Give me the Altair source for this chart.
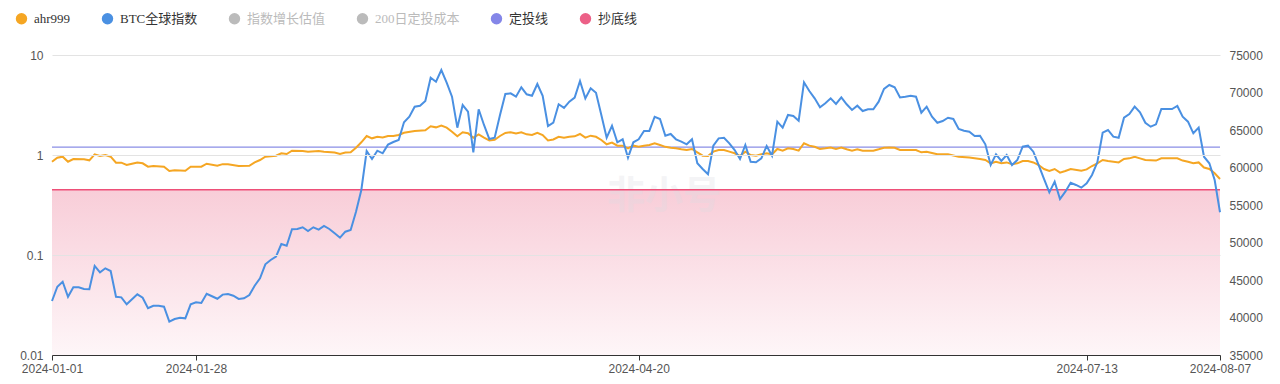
import altair as alt
import pandas as pd

# ---------------- data ----------------
series_names = ["ahr999", "BTC全球指数", "指数增长估值", "200日定投成本", "定投线", "抄底线"]
series_colors = ["#f5a623", "#4a90e2", "#bbbbbb", "#bbbbbb", "#8486e8", "#ec6087"]
inactive_series = ["指数增长估值", "200日定投成本"]

dca_line = 1.2     # 定投线
dip_line = 0.45    # 抄底线
left_floor = 0.01

x_tick_labels = ["2024-01-01", "2024-01-28", "2024-04-20", "2024-07-13", "2024-08-07"]
left_ticks = [0.01, 0.1, 1, 10]
right_ticks = [35000, 40000, 45000, 50000, 55000, 60000, 65000, 70000, 75000]

day_list = pd.date_range("2024-01-01", "2024-08-07", freq="D")
day_list = day_list[day_list != pd.Timestamp("2024-07-28")]
btc_dates = [d.strftime("%Y-%m-%dT00:00:00") for d in day_list]

btc_values = [
    42200, 44100, 44770, 42770, 44030, 44030, 43800, 43760, 46870, 46020,
    46560, 46200, 42770, 42690, 41760, 42430, 43090, 42640, 41230, 41570,
    41570, 41440, 39440, 39800, 39970, 39890, 41760, 42030, 41930, 43170,
    42830, 42500, 43050, 43130, 42910, 42470, 42560, 43000, 44240, 45220,
    47090, 47670, 48110, 49800, 49570, 51760, 51800, 52030, 51530, 52030,
    51710, 52200, 51800, 51230, 50640, 51440, 51670, 54110, 57000, 62200,
    61130, 62240, 61890, 63050, 63400, 63670, 66030, 66770, 68110, 68240,
    68870, 71970, 71440, 73000, 71310, 69440, 65310, 68330, 67440, 62030,
    67760, 65670, 63800, 63970, 67000, 69800, 69890, 69440, 70690, 69760,
    69570, 71130, 69570, 65530, 65970, 68430, 67950, 68780, 69310, 71530,
    69220, 70560, 69970, 67000, 63970, 65570, 63360, 63760, 61310, 63360,
    63760, 64870, 64870, 66770, 66470, 64240, 64470, 63760, 63440, 63090,
    63760, 60560, 59800, 59090, 62910, 63890, 63970, 63220, 62330, 61130,
    63000, 60770, 60690, 61220, 62870, 61570, 66110, 65310, 67000, 66870,
    66240, 71360, 70200, 69220, 68030, 68560, 69220, 68470, 69360, 68430,
    67670, 68240, 67530, 67760, 67760, 68780, 70470, 71000, 70700, 69330,
    69440, 69570, 69440, 67310, 68110, 66770, 65970, 66200, 66640, 66470,
    65140, 64910, 64770, 64200, 64240, 63090, 60330, 61760, 60870, 61670,
    60330, 61000, 62780, 62910, 62110, 60330, 58470, 56690, 58110, 55800,
    56780, 57970, 57670, 57310, 57890, 59000, 60690, 64640, 65000, 64110,
    63970, 66640, 67130, 68110, 67360, 65970, 65440, 65760, 67800, 67800,
    68200, 66770, 66110, 64560, 65310, 61440, 60560, 58330, 54030,
]

# (day index into btc_dates, ahr999 value)
ahr999_points = [
    (0, 0.857), (1, 0.94), (2, 0.962), (3, 0.857), (4, 0.912), (6, 0.905), (7, 0.884),
    (8, 1.016), (9, 0.977), (10, 1.0), (11, 0.962), (12, 0.838), (13, 0.838), (14, 0.794),
    (15, 0.818), (16, 0.843), (17, 0.826), (18, 0.764), (19, 0.776), (21, 0.764), (22, 0.692),
    (23, 0.703), (25, 0.697), (26, 0.764), (28, 0.764), (29, 0.818), (31, 0.78), (32, 0.81),
    (33, 0.81), (35, 0.776), (37, 0.78), (38, 0.843), (39, 0.891), (40, 0.962), (42, 0.985),
    (43, 1.04), (44, 1.023), (45, 1.105), (47, 1.096), (48, 1.08), (50, 1.096), (51, 1.08),
    (53, 1.057), (54, 1.023), (55, 1.057), (56, 1.064), (57, 1.183), (58, 1.34), (59, 1.549),
    (60, 1.468), (61, 1.52), (62, 1.50), (63, 1.549), (64, 1.549), (65, 1.585), (66, 1.67),
    (68, 1.738), (70, 1.765), (71, 1.936), (72, 1.89), (73, 1.965), (74, 1.88), (75, 1.71),
    (76, 1.538), (77, 1.69), (78, 1.65), (79, 1.49), (80, 1.61), (81, 1.49), (82, 1.40),
    (83, 1.42), (84, 1.549), (85, 1.66), (86, 1.69), (87, 1.64), (88, 1.69), (89, 1.61),
    (90, 1.585), (91, 1.67), (92, 1.585), (93, 1.40), (94, 1.43), (95, 1.52), (96, 1.49),
    (97, 1.52), (98, 1.538), (99, 1.622), (100, 1.49), (101, 1.56), (102, 1.52), (103, 1.413),
    (104, 1.28), (105, 1.33), (106, 1.24), (107, 1.24), (108, 1.166), (109, 1.24), (110, 1.207),
    (111, 1.24), (112, 1.259), (113, 1.31), (114, 1.259), (115, 1.207), (116, 1.18), (117, 1.166),
    (118, 1.14), (119, 1.122), (120, 1.148), (121, 1.064), (122, 0.985), (123, 0.977), (124, 1.08),
    (125, 1.122), (126, 1.122), (127, 1.08), (128, 1.04), (129, 0.977), (130, 1.08), (131, 1.0),
    (132, 0.985), (133, 1.016), (134, 1.04), (135, 1.016), (136, 1.148), (137, 1.105), (138, 1.166),
    (139, 1.148), (140, 1.105), (141, 1.31), (142, 1.24), (143, 1.207), (144, 1.148), (145, 1.166),
    (146, 1.19), (147, 1.148), (148, 1.19), (149, 1.14), (150, 1.105), (151, 1.14), (152, 1.105),
    (153, 1.105), (154, 1.105), (155, 1.14), (156, 1.18), (157, 1.19), (158, 1.18), (159, 1.122),
    (160, 1.122), (162, 1.122), (163, 1.064), (164, 1.08), (166, 1.016), (168, 1.016), (170, 0.962),
    (172, 0.946), (174, 0.912), (175, 0.891), (176, 0.826), (177, 0.857), (178, 0.826), (179, 0.843),
    (180, 0.81), (181, 0.826), (182, 0.871), (183, 0.871), (184, 0.843), (185, 0.794), (186, 0.724),
    (187, 0.692), (188, 0.724), (189, 0.666), (190, 0.692), (191, 0.724), (193, 0.697), (194, 0.718),
    (195, 0.776), (196, 0.826), (197, 0.891), (198, 0.871), (200, 0.843), (201, 0.912), (202, 0.926),
    (203, 0.962), (204, 0.926), (205, 0.891), (207, 0.88), (208, 0.926), (209, 0.926), (210, 0.926),
    (211, 0.88), (212, 0.857), (213, 0.826), (214, 0.843), (215, 0.75), (216, 0.724), (217, 0.656),
    (218, 0.575),
]

watermark_text = "非小号"

# ---------------- tables ----------------
btc_df = pd.DataFrame({"date": btc_dates, "btc": btc_values})
ahr_df = pd.DataFrame({
    "date": [btc_dates[i] for i, _ in ahr999_points],
    "ahr": [v for _, v in ahr999_points],
})
band_df = pd.DataFrame({"date": [btc_dates[0]], "end": [btc_dates[-1]],
                        "ahr": [dip_line], "bottom": [left_floor]})
dca_df = pd.DataFrame({"ahr": [dca_line]})
dip_df = pd.DataFrame({"ahr": [dip_line]})
legend_df = pd.DataFrame({"series": series_names})
wm_df = pd.DataFrame({"t": [watermark_text]})


def to_dt(s):
    y, m, d = map(int, s.split("-"))
    return alt.DateTime(year=y, month=m, date=d)


AX_FONT = "Liberation Sans"
LABEL_COLOR = "#555555"

x_scale = alt.Scale(domain=[to_dt(x_tick_labels[0]), to_dt(x_tick_labels[-1])], nice=False)
y_left_scale = alt.Scale(type="log", domain=[left_ticks[0], left_ticks[-1]], nice=False)
y_right_scale = alt.Scale(domain=[right_ticks[0], right_ticks[-1]], nice=False, zero=False)

x_axis = alt.Axis(values=[to_dt(s) for s in x_tick_labels], format="%Y-%m-%d", grid=False,
                  domainColor="#333333", tickColor="#333333", tickSize=5, labelPadding=3,
                  labelFontSize=12, labelColor=LABEL_COLOR, labelFont=AX_FONT,
                  labelFlush=False, labelOverlap=False, title=None, zindex=1)
left_axis = alt.Axis(orient="left", values=left_ticks, format="~g", grid=True,
                     gridColor="#e3e3e3", domain=False, ticks=False, labelPadding=9,
                     labelFontSize=12, labelColor=LABEL_COLOR, labelFont=AX_FONT, title=None,
                     zindex=1)
right_axis = alt.Axis(orient="right", values=right_ticks, format="d", grid=False,
                      domain=False, ticks=False, labelPadding=9, labelFontSize=12,
                      labelColor=LABEL_COLOR, labelFont=AX_FONT, title=None)

pink_gradient = alt.Gradient(
    gradient="linear", x1=0, y1=0, x2=0, y2=1,
    stops=[alt.GradientStop(offset=0, color="#f8cdd8"),
           alt.GradientStop(offset=1, color="#fef6f8")],
)

X_ENC = alt.X("date:T", scale=x_scale, axis=x_axis)
Y_ENC = alt.Y("ahr:Q", scale=y_left_scale, axis=left_axis)

band = alt.Chart(band_df).mark_rect(fill=pink_gradient, strokeWidth=0).encode(
    x=X_ENC, x2="end:T", y=Y_ENC, y2="bottom:Q",
)

watermark = alt.Chart(wm_df).mark_text(
    font="Noto Sans CJK SC", fontWeight="bold", fontSize=38, color="#dcdce2", opacity=0.3
).encode(text="t:N", x=alt.value(612), y=alt.value(142))

dca_rule = alt.Chart(dca_df).mark_rule(color="#8a8ee6", strokeWidth=1.2).encode(y=Y_ENC)
dip_rule = alt.Chart(dip_df).mark_rule(color="#ee4f78", strokeWidth=1.5).encode(y=Y_ENC)

ahr_line = alt.Chart(ahr_df).mark_line(color="#f5a623", strokeWidth=2).encode(x=X_ENC, y=Y_ENC)

left_layer = alt.layer(band, watermark, dca_rule, ahr_line, dip_rule)

btc_line = alt.Chart(btc_df).mark_line(color="#4a90e2", strokeWidth=2).encode(
    x=X_ENC,
    y=alt.Y("btc:Q", scale=y_right_scale, axis=right_axis),
)

inactive_js = "[" + ",".join("'" + s + "'" for s in inactive_series) + "]"
legend_layer = alt.Chart(legend_df).mark_circle(opacity=1).encode(
    color=alt.Color(
        "series:N",
        scale=alt.Scale(domain=series_names, range=series_colors),
        legend=alt.Legend(
            orient="none", legendX=-37, legendY=-43, direction="horizontal", title=None,
            symbolType="circle", symbolSize=130, symbolStrokeWidth=0,
            labelFont="Liberation Serif, Noto Sans CJK SC", labelFontSize=13,
            labelOffset=6, columnPadding=30, padding=0,
            labelColor=alt.ExprRef(
                f"indexof({inactive_js}, datum.value) >= 0 ? '#bbbbbb' : '#333333'"),
        ),
    )
).transform_filter("false")

chart = alt.layer(left_layer, btc_line, legend_layer).resolve_scale(
    y="independent"
).properties(
    width=1168, height=300,
    padding={"left": 44, "top": 47, "right": 52, "bottom": 21},
    autosize=alt.AutoSizeParams(type="none"),
    background="white",
).configure_view(stroke=None)

chart.save("out.html", embed_options={"renderer": "svg", "actions": False})
